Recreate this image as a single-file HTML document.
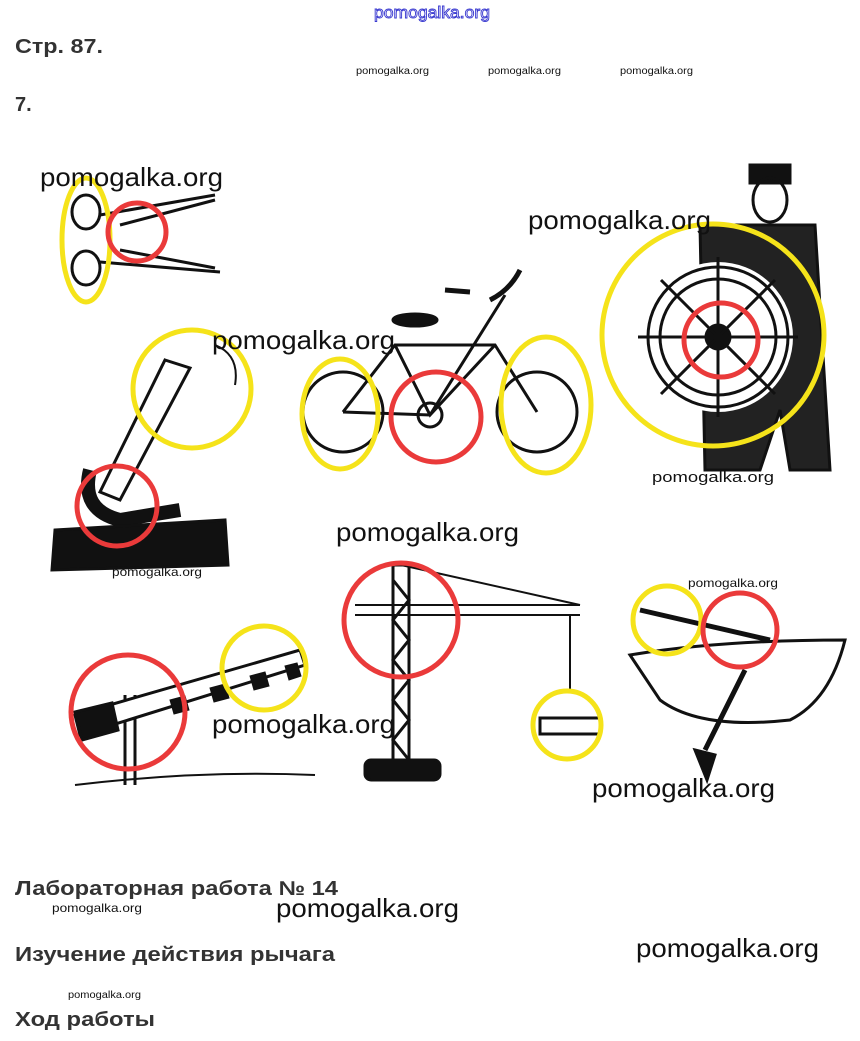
<!DOCTYPE html>
<html><head><meta charset="utf-8"><style>
html,body{margin:0;padding:0;background:#fff;}
body{width:860px;height:1041px;overflow:hidden;position:relative;}
svg{position:absolute;left:0;top:0;}
</style></head><body>
<svg width="860" height="1041" viewBox="0 0 860 1041" xmlns="http://www.w3.org/2000/svg" font-family="Liberation Sans, sans-serif">
<text x="374" y="18" font-size="17" fill="none" stroke="#3a3ad0" stroke-width="0.9" textLength="116" lengthAdjust="spacingAndGlyphs">pomogalka.org</text>
<text x="15" y="53" font-size="20" font-weight="bold" fill="#333" textLength="88" lengthAdjust="spacingAndGlyphs">Стр. 87.</text>
<g font-size="10" fill="#111">
<text x="356" y="74" textLength="73" lengthAdjust="spacingAndGlyphs">pomogalka.org</text>
<text x="488" y="74" textLength="73" lengthAdjust="spacingAndGlyphs">pomogalka.org</text>
<text x="620" y="74" textLength="73" lengthAdjust="spacingAndGlyphs">pomogalka.org</text>
</g>
<text x="15" y="111" font-size="20" font-weight="bold" fill="#333">7.</text>

<g stroke="#111" fill="none" stroke-width="3">
 <ellipse cx="86" cy="212" rx="14" ry="17"/><ellipse cx="86" cy="268" rx="14" ry="17"/>
 <path d="M100 215 L215 195 M100 262 L220 272 M120 225 L215 200 M120 250 L215 268"/>
 <path d="M165 360 L190 368 L120 500 L100 492 Z" fill="#fff"/>
 <path d="M90 470 q-10 40 30 50 l60 -10" stroke-width="14"/>
 <path d="M55 530 L225 520 L228 565 L52 570 Z" fill="#111"/>
 <path d="M215 345 q25 10 20 40" stroke-width="2"/>
 <circle cx="343" cy="412" r="40"/><circle cx="537" cy="412" r="40"/>
 <path d="M343 412 L395 345 L495 345 L537 412 M395 345 L430 415 L495 345 M343 412 L430 415 L505 295" stroke-width="3"/>
 <path d="M445 290 L470 292 M490 300 q20 -10 30 -30" stroke-width="5"/>
 <ellipse cx="415" cy="320" rx="22" ry="6" fill="#111"/>
 <circle cx="430" cy="415" r="12"/>
 <rect x="750" y="165" width="40" height="18" fill="#111"/>
 <ellipse cx="770" cy="200" rx="17" ry="22"/>
 <path d="M725 225 L815 225 L830 470 L790 470 L780 410 L760 470 L705 470 L700 225 Z" fill="#222"/>
 <circle cx="718" cy="337" r="70" stroke="#fff" stroke-width="10" fill="#fff"/>
 <circle cx="718" cy="337" r="70"/><circle cx="718" cy="337" r="58"/>
 <circle cx="718" cy="337" r="12" fill="#111"/>
 <path d="M718 257 V417 M638 337 H798 M661 280 L775 394 M775 280 L661 394"/>
 <rect x="393" y="565" width="16" height="195" fill="#fff"/>
 <path d="M393 565 V760 M409 565 V760 M393 580 L409 600 L393 620 L409 640 L393 660 L409 680 L393 700 L409 720 L393 740 L409 760"/>
 <path d="M355 615 L580 615 M355 605 L580 605 M401 565 L580 605 M570 615 V690" stroke-width="2"/>
 <rect x="365" y="760" width="75" height="20" rx="6" fill="#111"/>
 <rect x="540" y="718" width="60" height="16" fill="#fff"/>
 <path d="M125 695 V785 M135 695 V785" stroke-width="3"/>
 <path d="M75 715 L300 650 L305 665 L80 735 Z" fill="#fff"/>
 <path d="M75 712 L112 703 L118 730 L82 740 Z" fill="#111"/>
 <path d="M170 700 l15 -4 l4 14 l-15 4 Z M210 688 l15 -4 l4 14 l-15 4 Z M250 676 l15 -4 l4 14 l-15 4 Z M285 666 l12 -3 l4 13 l-12 4Z" fill="#111" stroke-width="1"/>
 <path d="M75 785 Q200 770 315 775" stroke-width="2"/>
 <path d="M630 655 Q720 640 845 640 Q830 700 790 720 Q700 730 660 700 Z" fill="#fff"/>
 <path d="M640 610 L770 640 M745 670 L705 750" stroke-width="5"/>
 <path d="M695 750 l20 5 l-8 25 Z" fill="#111"/>
</g>

<g fill="none" stroke-width="5">
 <ellipse cx="86" cy="240" rx="24" ry="62" stroke="#f5e31a"/>
 <circle cx="137" cy="232" r="29" stroke="#ea3a3a"/>
 <circle cx="192" cy="389" r="59" stroke="#f5e31a"/>
 <circle cx="117" cy="506" r="40" stroke="#ea3a3a"/>
 <ellipse cx="340" cy="414" rx="38" ry="55" stroke="#f5e31a"/>
 <circle cx="436" cy="417" r="45" stroke="#ea3a3a"/>
 <ellipse cx="546" cy="405" rx="45" ry="68" stroke="#f5e31a"/>
 <circle cx="713" cy="335" r="111" stroke="#f5e31a"/>
 <circle cx="721" cy="340" r="37" stroke="#ea3a3a"/>
 <circle cx="401" cy="620" r="57" stroke="#ea3a3a"/>
 <circle cx="567" cy="725" r="34" stroke="#f5e31a"/>
 <circle cx="128" cy="712" r="57" stroke="#ea3a3a"/>
 <circle cx="264" cy="668" r="42" stroke="#f5e31a"/>
 <circle cx="667" cy="620" r="34" stroke="#f5e31a"/>
 <circle cx="740" cy="630" r="37" stroke="#ea3a3a"/>
</g>

<g fill="#111" font-size="26">
 <text x="40" y="186" textLength="183" lengthAdjust="spacingAndGlyphs">pomogalka.org</text>
 <text x="528" y="229" textLength="183" lengthAdjust="spacingAndGlyphs">pomogalka.org</text>
 <text x="212" y="349" textLength="183" lengthAdjust="spacingAndGlyphs">pomogalka.org</text>
 <text x="336" y="541" textLength="183" lengthAdjust="spacingAndGlyphs">pomogalka.org</text>
 <text x="212" y="733" textLength="183" lengthAdjust="spacingAndGlyphs">pomogalka.org</text>
 <text x="592" y="797" textLength="183" lengthAdjust="spacingAndGlyphs">pomogalka.org</text>
 <text x="276" y="917" textLength="183" lengthAdjust="spacingAndGlyphs">pomogalka.org</text>
 <text x="636" y="957" textLength="183" lengthAdjust="spacingAndGlyphs">pomogalka.org</text>
</g>
<text x="652" y="482" font-size="15" fill="#111" textLength="122" lengthAdjust="spacingAndGlyphs">pomogalka.org</text>
<g fill="#111" font-size="12">
 <text x="112" y="576" textLength="90" lengthAdjust="spacingAndGlyphs">pomogalka.org</text>
 <text x="688" y="587" textLength="90" lengthAdjust="spacingAndGlyphs">pomogalka.org</text>
 <text x="52" y="912" textLength="90" lengthAdjust="spacingAndGlyphs">pomogalka.org</text>
</g>
<text x="68" y="998" font-size="10" fill="#111" textLength="73" lengthAdjust="spacingAndGlyphs">pomogalka.org</text>

<g fill="#333" font-size="20" font-weight="bold">
 <text x="15" y="895" textLength="323" lengthAdjust="spacingAndGlyphs">Лабораторная работа № 14</text>
 <text x="15" y="961" textLength="320" lengthAdjust="spacingAndGlyphs">Изучение действия рычага</text>
 <text x="15" y="1026" textLength="140" lengthAdjust="spacingAndGlyphs">Ход работы</text>
</g>
</svg>
</body></html>
